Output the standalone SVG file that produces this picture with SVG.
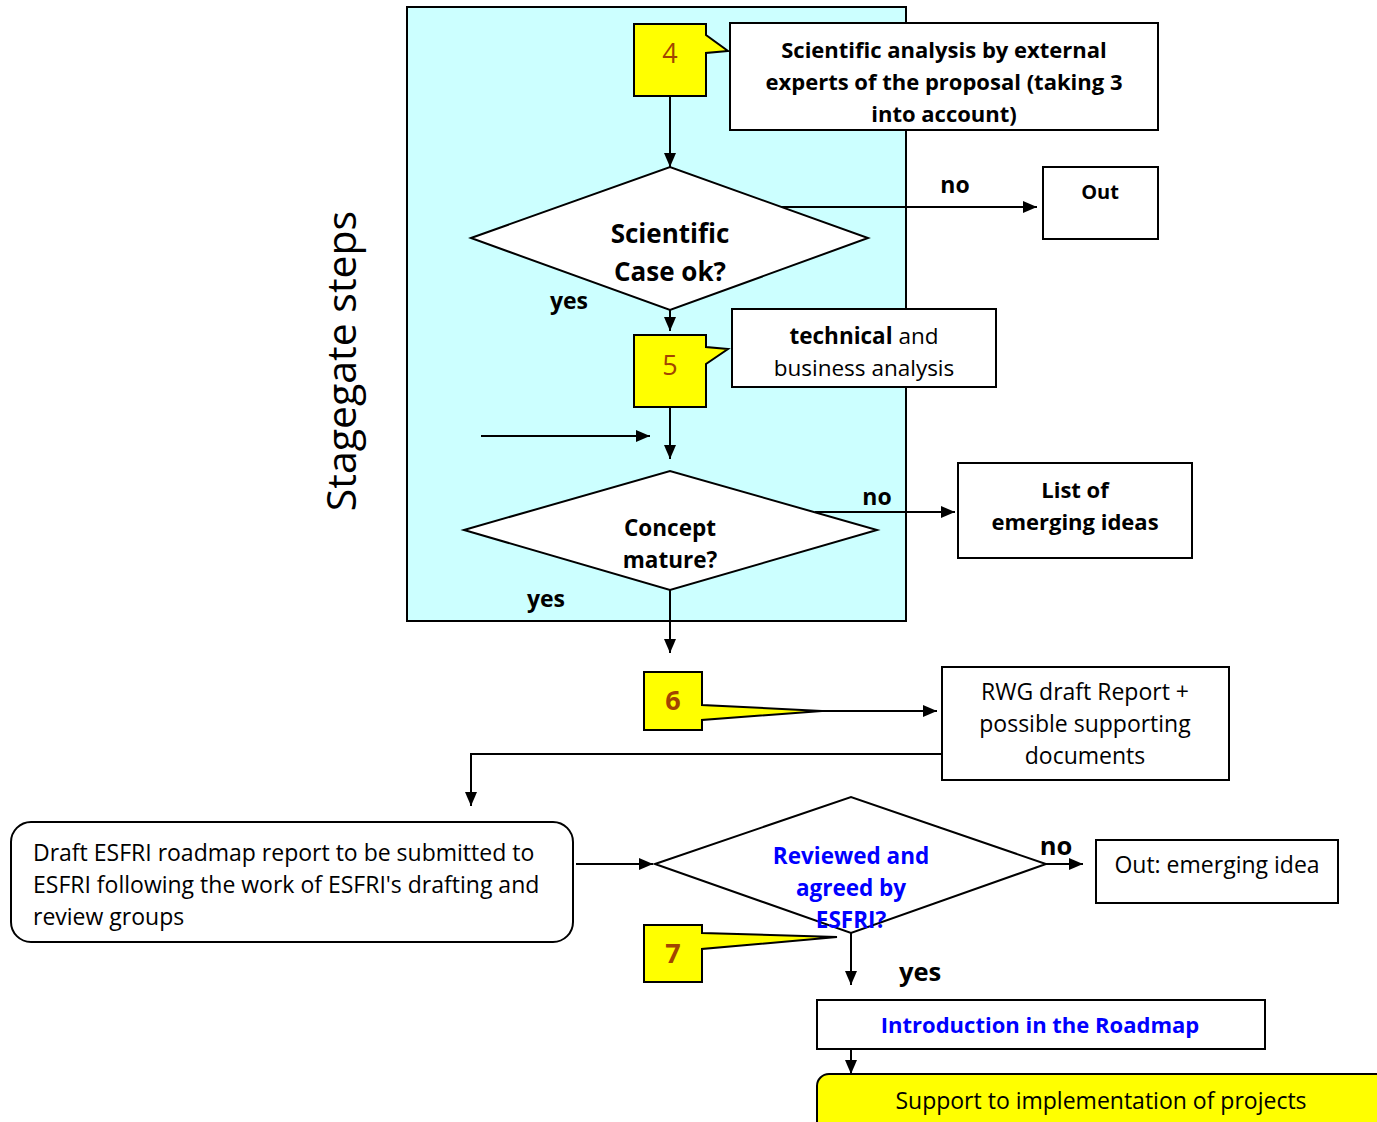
<svg xmlns="http://www.w3.org/2000/svg" width="1377" height="1122" viewBox="0 0 1377 1122">
<defs>
<marker id="ah" viewBox="0 0 14 12" refX="14" refY="6" markerWidth="14" markerHeight="12" markerUnits="userSpaceOnUse" orient="auto">
<path d="M0,0 L14,6 L0,12 Z" fill="#000"/>
</marker>
</defs>
<style>
text{font-family:"Open Sans","Noto Sans","DejaVu Sans",sans-serif;fill:#000}
.b{font-weight:bold}
.c{text-anchor:middle}
.box{fill:#fff;stroke:#000;stroke-width:2}
.dia{fill:#fff;stroke:#000;stroke-width:2}
.call{fill:#ffff00;stroke:#000;stroke-width:2;stroke-linejoin:miter}
.num{fill:#a24400;text-anchor:middle}
.blue{fill:#0000ff}
.ln{fill:none;stroke:#000;stroke-width:2;marker-end:url(#ah)}
</style>
<rect id="stagegate" x="407" y="7" width="499" height="614" fill="#ccffff" stroke="#000" stroke-width="2"/>
<text x="345" y="361" transform="rotate(-90 345 361)" class="c" font-size="41" dominant-baseline="middle">Stagegate steps</text>

<g id="connectors">
<line class="ln" x1="670" y1="96" x2="670" y2="167"/>
<line class="ln" x1="780" y1="207" x2="1037" y2="207"/>
<line class="ln" x1="670" y1="310" x2="670" y2="331"/>
<line class="ln" x1="670" y1="407" x2="670" y2="459"/>
<line class="ln" x1="481" y1="436" x2="650" y2="436"/>
<line class="ln" x1="815" y1="512" x2="955" y2="512"/>
<line class="ln" x1="670" y1="590" x2="670" y2="653"/>
<line class="ln" x1="800" y1="711" x2="937" y2="711"/>
<polyline class="ln" points="942,754 471,754 471,806"/>
<line class="ln" x1="576" y1="864" x2="653" y2="864"/>
<line class="ln" x1="1046" y1="864" x2="1083" y2="864"/>
<line class="ln" x1="851" y1="933" x2="851" y2="985"/>
<line class="ln" x1="851" y1="1049" x2="851" y2="1074"/>
<text x="955" y="193" class="b c" font-size="23">no</text>
<text x="569" y="309" class="b c" font-size="23">yes</text>
<text x="877" y="505" class="b c" font-size="23">no</text>
<text x="546" y="607" class="b c" font-size="23">yes</text>
<text x="1056" y="855" class="b c" font-size="25.5">no</text>
<text x="920" y="981" class="b c" font-size="25.5">yes</text>
</g>

<g id="n4">
<path class="call" d="M634,24 H706 V35 L728,51 L706,53 V96 H634 Z"/>
<text x="670" y="63" class="num" font-size="27">4</text>
</g>
<g id="sci-analysis">
<rect class="box" x="730" y="23" width="428" height="107"/>
<text class="b c" font-size="22" x="944" y="58">Scientific analysis by external</text>
<text class="b c" font-size="22" x="944" y="90">experts of the proposal (taking 3</text>
<text class="b c" font-size="22" x="944" y="122">into account)</text>
</g>
<g id="d-scicase">
<polygon class="dia" points="471,238 670,167 868,238 670,310"/>
<text class="b c" font-size="26" x="670" y="243">Scientific</text>
<text class="b c" font-size="26" x="670" y="281">Case ok?</text>
</g>
<g id="out1">
<rect class="box" x="1043" y="167" width="115" height="72"/>
<text class="b c" font-size="20" x="1100" y="199">Out</text>
</g>
<g id="n5">
<path class="call" d="M634,335 H706 V347 L728,349 L706,364 V407 H634 Z"/>
<text x="670" y="375" class="num" font-size="27">5</text>
</g>
<g id="tech">
<rect class="box" x="732" y="309" width="264" height="78"/>
<text class="c" font-size="22.5" x="864" y="344"><tspan class="b">technical</tspan> and</text>
<text class="c" font-size="22.5" x="864" y="376">business analysis</text>
</g>
<g id="d-concept">
<polygon class="dia" points="464,530 670,471 877,530 670,590"/>
<text class="b c" font-size="22.5" x="670" y="536">Concept</text>
<text class="b c" font-size="22.5" x="670" y="568">mature?</text>
</g>
<g id="emerging">
<rect class="box" x="958" y="463" width="234" height="95"/>
<text class="b c" font-size="22" x="1075" y="498">List of</text>
<text class="b c" font-size="22" x="1075" y="530">emerging ideas</text>
</g>
<g id="n6">
<path class="call" d="M644,672 H702 V705 L822,711 L702,720 V730 H644 Z"/>
<text x="673" y="710" class="num b" font-size="27">6</text>
</g>
<g id="rwg">
<rect class="box" x="942" y="667" width="287" height="113"/>
<text class="c" font-size="23" x="1085" y="700">RWG draft Report +</text>
<text class="c" font-size="23" x="1085" y="732">possible supporting</text>
<text class="c" font-size="23" x="1085" y="764">documents</text>
</g>
<g id="draft">
<rect class="box" x="11" y="822" width="562" height="120" rx="20"/>
<text font-size="23" x="33" y="861">Draft ESFRI roadmap report to be submitted to</text>
<text font-size="23" x="33" y="893">ESFRI following the work of ESFRI's drafting and</text>
<text font-size="23" x="33" y="925">review groups</text>
</g>
<g id="d-review">
<polygon class="dia" points="655,864 851,797 1046,864 851,933"/>
<text class="b c blue" font-size="22.5" x="851" y="864">Reviewed and</text>
<text class="b c blue" font-size="22.5" x="851" y="896">agreed by</text>
<text class="b c blue" font-size="22.5" x="851" y="928">ESFRI?</text>
</g>
<g id="out2">
<rect class="box" x="1096" y="840" width="242" height="63"/>
<text class="c" font-size="23" x="1217" y="873">Out: emerging idea</text>
</g>
<g id="n7">
<path class="call" d="M644,925 H702 V933 L837,937 L702,949 V982 H644 Z"/>
<text x="673" y="963" class="num b" font-size="27">7</text>
</g>
<g id="intro">
<rect class="box" x="817" y="1000" width="448" height="49"/>
<text class="b c blue" font-size="22" x="1040" y="1033">Introduction in the Roadmap</text>
</g>
<g id="support">
<rect x="817" y="1074" width="580" height="70" rx="12" fill="#ffff00" stroke="#000" stroke-width="2"/>
<text class="c" font-size="23" x="1101" y="1109">Support to implementation of projects</text>
</g>
</svg>
